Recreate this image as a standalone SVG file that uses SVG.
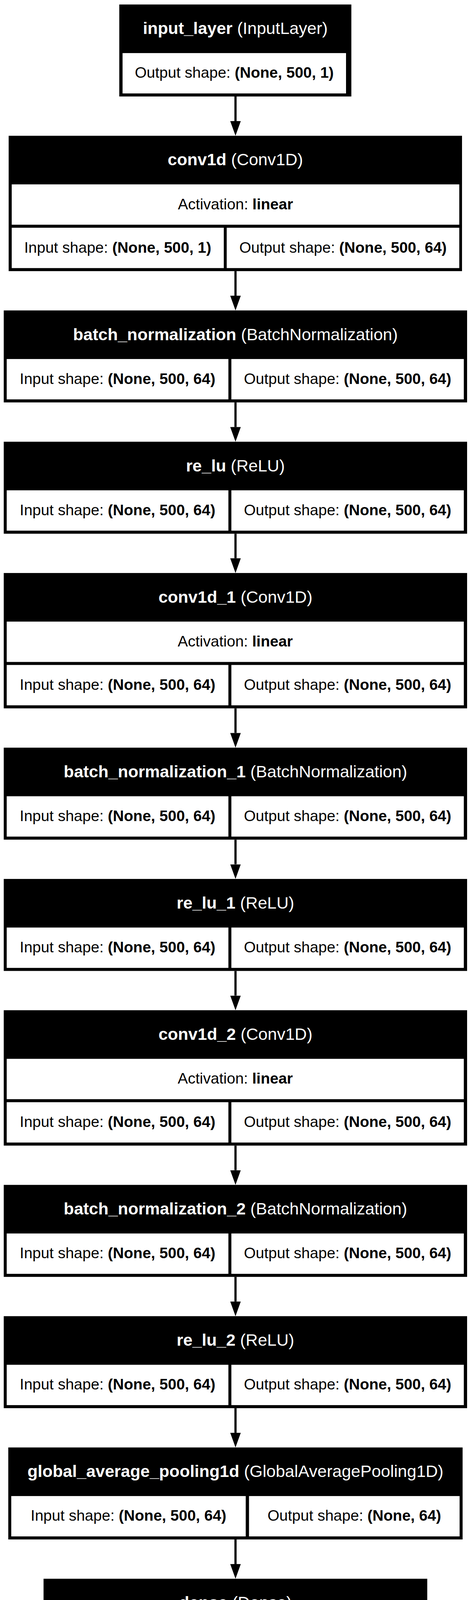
<svg xmlns="http://www.w3.org/2000/svg" width="1206" height="4400" viewBox="0 0 1206 4400">
<style>
  text { font-family: "Liberation Sans", Arial, Helvetica, sans-serif; text-anchor: middle; }
  .hd { fill: #ffffff; font-size: 43px; }
  .cl { fill: #000000; font-size: 39px; }
  .b { font-weight: bold; }
  .frame { fill: #000000; }
  .cell { fill: #ffffff; }
  .edge { stroke: #000000; stroke-width: 5.6; fill: none; }
</style>
<defs>
  <marker id="arrow" markerUnits="userSpaceOnUse" markerWidth="38" markerHeight="28" viewBox="0 0 38 28" refX="0" refY="14" orient="auto">
    <path d="M0,0.5 L37.6,14 L0,27.5 Z" fill="#000000"/>
  </marker>
</defs>
<rect x="0" y="0" width="1206" height="4400" fill="#ffffff"/>

<g id="connectors">
  <line class="edge" x1="603" y1="247" x2="603" y2="310" marker-end="url(#arrow)"/>
  <line class="edge" x1="603" y1="694.1" x2="603" y2="757.1" marker-end="url(#arrow)"/>
  <line class="edge" x1="603" y1="1030.2" x2="603" y2="1093.2" marker-end="url(#arrow)"/>
  <line class="edge" x1="603" y1="1366.3" x2="603" y2="1429.3" marker-end="url(#arrow)"/>
  <line class="edge" x1="603" y1="1813.4" x2="603" y2="1876.4" marker-end="url(#arrow)"/>
  <line class="edge" x1="603" y1="2149.5" x2="603" y2="2212.5" marker-end="url(#arrow)"/>
  <line class="edge" x1="603" y1="2485.6" x2="603" y2="2548.6" marker-end="url(#arrow)"/>
  <line class="edge" x1="603" y1="2932.7" x2="603" y2="2995.7" marker-end="url(#arrow)"/>
  <line class="edge" x1="603" y1="3268.8" x2="603" y2="3331.8" marker-end="url(#arrow)"/>
  <line class="edge" x1="603" y1="3604.9" x2="603" y2="3667.9" marker-end="url(#arrow)"/>
  <line class="edge" x1="603" y1="3941" x2="603" y2="4004" marker-end="url(#arrow)"/>
</g>

<g id="input_layer">
  <rect class="frame" x="305.4" y="11.5" width="594.2" height="235.5"/>
  <rect class="cell" x="313.8" y="135.9" width="572.2" height="103.3"/>
  <text class="hd" x="602.5" y="87.3"><tspan class="b">input_layer</tspan> (InputLayer)</text>
  <text class="cl" x="599.9" y="199.4">Output shape: <tspan class="b">(None, 500, 1)</tspan></text>
</g>

<g id="conv1d">
  <rect class="frame" x="22.2" y="347.6" width="1160.8" height="346.5"/>
  <rect class="cell" x="30" y="472" width="1146" height="103.3"/>
  <rect class="cell" x="30" y="583" width="543" height="103.3"/>
  <rect class="cell" x="580.5" y="583" width="595.5" height="103.3"/>
  <text class="hd" x="602.6" y="423.4"><tspan class="b">conv1d</tspan> (Conv1D)</text>
  <text class="cl" x="603" y="535.5">Activation: <tspan class="b">linear</tspan></text>
  <text class="cl" x="301.5" y="646.5">Input shape: <tspan class="b">(None, 500, 1)</tspan></text>
  <text class="cl" x="878.3" y="646.5">Output shape: <tspan class="b">(None, 500, 64)</tspan></text>
</g>

<g id="batch_normalization">
  <rect class="frame" x="9.6" y="794.7" width="1186.4" height="235.5"/>
  <rect class="cell" x="17.2" y="919.1" width="567.6" height="103.3"/>
  <rect class="cell" x="592.4" y="919.1" width="595.2" height="103.3"/>
  <text class="hd" x="602.8" y="870.5"><tspan class="b">batch_normalization</tspan> (BatchNormalization)</text>
  <text class="cl" x="301" y="982.6">Input shape: <tspan class="b">(None, 500, 64)</tspan></text>
  <text class="cl" x="890" y="982.6">Output shape: <tspan class="b">(None, 500, 64)</tspan></text>
</g>

<g id="re_lu">
  <rect class="frame" x="9.6" y="1130.8" width="1186.4" height="235.5"/>
  <rect class="cell" x="17.2" y="1255.2" width="567.6" height="103.3"/>
  <rect class="cell" x="592.4" y="1255.2" width="595.2" height="103.3"/>
  <text class="hd" x="602.8" y="1206.6"><tspan class="b">re_lu</tspan> (ReLU)</text>
  <text class="cl" x="301" y="1318.7">Input shape: <tspan class="b">(None, 500, 64)</tspan></text>
  <text class="cl" x="890" y="1318.7">Output shape: <tspan class="b">(None, 500, 64)</tspan></text>
</g>

<g id="conv1d_1">
  <rect class="frame" x="9.6" y="1466.9" width="1186.4" height="346.5"/>
  <rect class="cell" x="17.2" y="1591.3" width="1170.4" height="103.3"/>
  <rect class="cell" x="17.2" y="1702.3" width="567.6" height="103.3"/>
  <rect class="cell" x="592.4" y="1702.3" width="595.2" height="103.3"/>
  <text class="hd" x="602.8" y="1542.7"><tspan class="b">conv1d_1</tspan> (Conv1D)</text>
  <text class="cl" x="602.4" y="1654.8">Activation: <tspan class="b">linear</tspan></text>
  <text class="cl" x="301" y="1765.8">Input shape: <tspan class="b">(None, 500, 64)</tspan></text>
  <text class="cl" x="890" y="1765.8">Output shape: <tspan class="b">(None, 500, 64)</tspan></text>
</g>

<g id="batch_normalization_1">
  <rect class="frame" x="9.6" y="1914" width="1186.4" height="235.5"/>
  <rect class="cell" x="17.2" y="2038.4" width="567.6" height="103.3"/>
  <rect class="cell" x="592.4" y="2038.4" width="595.2" height="103.3"/>
  <text class="hd" x="602.8" y="1989.8"><tspan class="b">batch_normalization_1</tspan> (BatchNormalization)</text>
  <text class="cl" x="301" y="2101.9">Input shape: <tspan class="b">(None, 500, 64)</tspan></text>
  <text class="cl" x="890" y="2101.9">Output shape: <tspan class="b">(None, 500, 64)</tspan></text>
</g>

<g id="re_lu_1">
  <rect class="frame" x="9.6" y="2250.1" width="1186.4" height="235.5"/>
  <rect class="cell" x="17.2" y="2374.5" width="567.6" height="103.3"/>
  <rect class="cell" x="592.4" y="2374.5" width="595.2" height="103.3"/>
  <text class="hd" x="602.8" y="2325.9"><tspan class="b">re_lu_1</tspan> (ReLU)</text>
  <text class="cl" x="301" y="2438">Input shape: <tspan class="b">(None, 500, 64)</tspan></text>
  <text class="cl" x="890" y="2438">Output shape: <tspan class="b">(None, 500, 64)</tspan></text>
</g>

<g id="conv1d_2">
  <rect class="frame" x="9.6" y="2586.2" width="1186.4" height="346.5"/>
  <rect class="cell" x="17.2" y="2710.6" width="1170.4" height="103.3"/>
  <rect class="cell" x="17.2" y="2821.6" width="567.6" height="103.3"/>
  <rect class="cell" x="592.4" y="2821.6" width="595.2" height="103.3"/>
  <text class="hd" x="602.8" y="2662"><tspan class="b">conv1d_2</tspan> (Conv1D)</text>
  <text class="cl" x="602.4" y="2774.1">Activation: <tspan class="b">linear</tspan></text>
  <text class="cl" x="301" y="2885.1">Input shape: <tspan class="b">(None, 500, 64)</tspan></text>
  <text class="cl" x="890" y="2885.1">Output shape: <tspan class="b">(None, 500, 64)</tspan></text>
</g>

<g id="batch_normalization_2">
  <rect class="frame" x="9.6" y="3033.3" width="1186.4" height="235.5"/>
  <rect class="cell" x="17.2" y="3157.7" width="567.6" height="103.3"/>
  <rect class="cell" x="592.4" y="3157.7" width="595.2" height="103.3"/>
  <text class="hd" x="602.8" y="3109.1"><tspan class="b">batch_normalization_2</tspan> (BatchNormalization)</text>
  <text class="cl" x="301" y="3221.2">Input shape: <tspan class="b">(None, 500, 64)</tspan></text>
  <text class="cl" x="890" y="3221.2">Output shape: <tspan class="b">(None, 500, 64)</tspan></text>
</g>

<g id="re_lu_2">
  <rect class="frame" x="9.6" y="3369.4" width="1186.4" height="235.5"/>
  <rect class="cell" x="17.2" y="3493.8" width="567.6" height="103.3"/>
  <rect class="cell" x="592.4" y="3493.8" width="595.2" height="103.3"/>
  <text class="hd" x="602.8" y="3445.2"><tspan class="b">re_lu_2</tspan> (ReLU)</text>
  <text class="cl" x="301" y="3557.3">Input shape: <tspan class="b">(None, 500, 64)</tspan></text>
  <text class="cl" x="890" y="3557.3">Output shape: <tspan class="b">(None, 500, 64)</tspan></text>
</g>

<g id="global_average_pooling1d">
  <rect class="frame" x="21.2" y="3705.5" width="1163.3" height="235.5"/>
  <rect class="cell" x="28.8" y="3829.9" width="600.4" height="103.3"/>
  <rect class="cell" x="637.6" y="3829.9" width="539.2" height="103.3"/>
  <text class="hd" x="602.9" y="3781.3"><tspan class="b">global_average_pooling1d</tspan> (GlobalAveragePooling1D)</text>
  <text class="cl" x="329" y="3893.4">Input shape: <tspan class="b">(None, 500, 64)</tspan></text>
  <text class="cl" x="907.2" y="3893.4">Output shape: <tspan class="b">(None, 64)</tspan></text>
</g>

<g id="dense">
  <rect class="frame" x="111.5" y="4041.6" width="982.5" height="346.5"/>
  <rect class="cell" x="119.2" y="4166" width="967.3" height="103.3"/>
  <rect class="cell" x="119.2" y="4277" width="475.8" height="103.3"/>
  <rect class="cell" x="603" y="4277" width="483.5" height="103.3"/>
  <text class="hd" x="602.8" y="4117.4"><tspan class="b">dense</tspan> (Dense)</text>
  <text class="cl" x="602.9" y="4229.5">Activation: <tspan class="b">softmax</tspan></text>
  <text class="cl" x="357.1" y="4340.5">Input shape: <tspan class="b">(None, 64)</tspan></text>
  <text class="cl" x="844.8" y="4340.5">Output shape: <tspan class="b">(None, 2)</tspan></text>
</g>
</svg>
